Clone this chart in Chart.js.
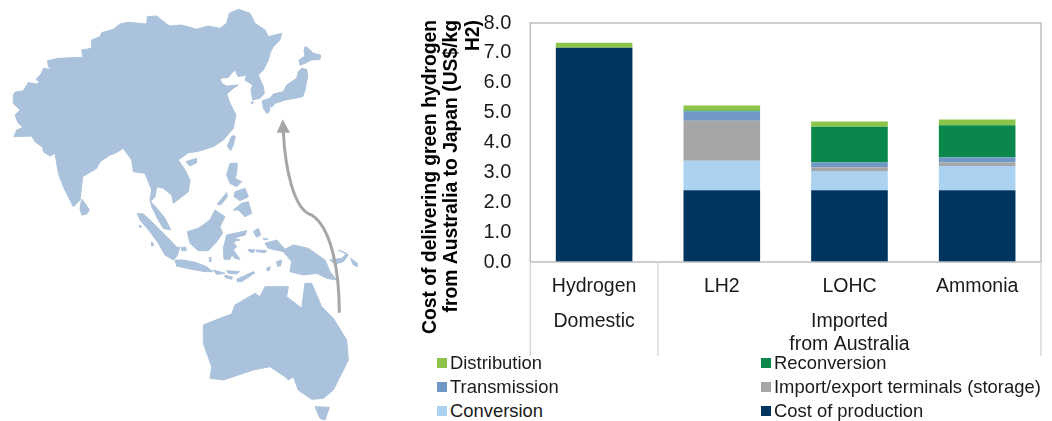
<!DOCTYPE html>
<html>
<head>
<meta charset="utf-8">
<script src="https://cdn.jsdelivr.net/npm/chart.js@4"></script>
<style>
  html, body { margin: 0; padding: 0; background: #fff; }
  #page { position: relative; width: 1052px; height: 421px; overflow: hidden; font-family: "Liberation Sans", Arial, sans-serif; }
  #map { position: absolute; left: 0; top: 0; }
  #wrap { position: absolute; left: 410px; top: 0; width: 642px; height: 356px; }
  #legend div { position: absolute; font-size: 18.4px; line-height: 20px; color: #1a1a1a; white-space: nowrap; }
  #legend i { position: absolute; left: -13px; top: 5px; width: 10px; height: 10px; }
</style>
</head>
<body>
<div id="page">
  <svg id="map" width="400" height="421" viewBox="0 0 1200 1263">
    <g fill="#abc2dc" stroke="#abc2dc" stroke-width="3" stroke-linejoin="round">
      <!-- Asia -->
      <path d="M40,285 45,277 70,272 85,248 110,252 118,245 108,238 125,220 130,205 145,207 160,210 145,200 143,182 175,175 245,172 250,178 245,150 275,145 275,120 300,110 305,98 340,88 360,72 385,67 440,72 442,50 470,48 500,72 510,78 545,75 590,88 625,78 660,85 680,70 688,40 715,28 750,40 765,70 795,90 805,110 845,100 840,120 820,140 810,160 805,180 790,210 775,225 790,260 793,280 780,295 758,300 753,270 758,255 735,240 740,225 715,230 705,210 695,220 685,232 660,235 665,250 680,258 715,255 700,265 680,282 690,310 708,345 700,385 670,420 640,440 590,455 565,458 535,480 555,510 570,540 565,575 520,610 515,585 490,565 470,560 465,590 452,605 475,630 495,655 512,690 490,685 475,660 455,620 450,600 455,570 445,545 435,520 400,515 395,480 370,445 345,460 330,465 300,485 290,505 248,530 240,600 220,620 205,590 190,560 175,520 165,460 150,468 130,455 128,442 105,425 95,408 42,410 50,390 70,382 55,370 45,345 60,330 40,310Z"/>
      <!-- Sri Lanka, Hainan, Taiwan, Japan -->
      <path d="M245,598 255,610 268,630 260,642 245,645 240,625Z"/>
      <path d="M558,485 590,475 590,488 570,498Z"/>
      <path d="M695,408 706,408 700,435 692,452 682,438Z"/>
      <path d="M915,140 925,145 940,160 962,165 960,178 935,180 915,190 900,195 897,180 915,168 912,152Z"/>
      <path d="M905,205 920,208 923,230 915,270 908,290 885,295 855,300 840,305 825,310 815,322 810,315 808,335 800,340 790,325 787,302 810,295 820,282 850,275 860,255 890,235 895,215Z"/>
      <path d="M752,308 760,305 757,312Z"/>
      <!-- Sumatra, Java, Borneo, Sulawesi, Philippines -->
      <path d="M412,640 430,642 450,660 475,685 495,705 510,720 530,742 540,742 530,770 520,780 495,765 475,730 450,695 420,660Z"/>
      <path d="M525,780 550,780 590,788 620,800 638,815 615,815 560,805 530,798Z"/>
      <path d="M562,695 595,685 630,660 645,630 675,650 660,680 668,700 650,725 625,752 595,752 570,730Z"/>
      <path d="M680,705 740,692 735,705 700,715 720,720 700,725 710,740 700,750 720,778 705,775 695,765 690,778 672,778 670,745Z"/>
      <path d="M690,490 712,490 710,520 705,535 725,545 710,560 690,550 680,525Z"/>
      <path d="M705,575 735,565 745,590 720,602 702,590Z"/>
      <path d="M700,630 725,610 745,605 755,640 735,650 715,630Z"/>
      <path d="M652,612 680,578 682,590 662,615Z"/>
      <path d="M545,742 558,742 558,752 545,752Z"/>
      <path d="M628,772 633,772 633,785 628,785Z"/>
      <path d="M455,725 462,735 455,738Z"/>
      <path d="M418,675 425,680 420,683Z"/>
      <g transform="translate(360,480)">
        <!-- smaller islands of the Banda Sea, New Guinea and its neighbours -->
        <path d="M280,330 315,340 290,343Z"/>
        <path d="M320,332 358,335 350,342 325,340Z"/>
        <path d="M315,345 338,352 335,358 315,352Z"/>
        <path d="M350,358 400,335 405,338 365,365 352,365Z"/>
        <path d="M400,215 415,205 422,225 410,232Z"/>
        <path d="M435,250 470,240 495,268 520,255 565,265 615,300 630,335 650,360 620,355 590,340 550,345 510,335 515,305 490,275 445,265Z"/>
        <path d="M385,268 405,270 400,278 388,275Z"/>
        <path d="M408,270 440,272 435,278 410,275Z"/>
        <path d="M470,305 485,300 482,318 472,318Z"/>
        <path d="M440,325 450,320 448,332 442,332Z"/>
        <path d="M630,300 665,295 680,280 655,270 685,285 670,305 645,312Z"/>
        <path d="M692,295 712,310 712,320 700,315Z"/>
        <path d="M430,235 445,238 430,238Z"/>
        <!-- Australia, Tasmania -->
        <path d="M250,495 300,475 335,462 345,435 405,400 420,410 435,380 505,380 500,410 545,445 555,370 575,370 590,405 605,440 640,475 680,540 685,600 660,650 640,690 610,715 575,718 535,690 520,650 505,660 495,650 450,620 400,630 310,660 270,655 275,620 250,550Z"/>
        <path d="M585,740 628,742 615,780 600,775Z"/>
      </g>
    </g>
    <path d="M1018,938 C1018,800 990,680 935,645 C880,630 855,500 850,395" fill="none" stroke="#a6a6a6" stroke-width="9"/>
    <path d="M848,358 830,398 870,398Z" fill="#a6a6a6"/>
  </svg>
  <div id="wrap"><canvas id="chart"></canvas></div>
  <div id="legend"></div>
</div>
<script>
const categories = ["Hydrogen", "LH2", "LOHC", "Ammonia"];
const groupLabels = ["Domestic", "", ["Imported", "from Australia"], ""];
const groupSizes = [1, 3];
const yTicks = [0, 1, 2, 3, 4, 5, 6, 7, 8];

const production = [7.17, 2.4, 2.4, 2.4];
const conversion = [0, 0.99, 0.65, 0.81];
const terminals = [0, 1.34, 0.12, 0.12];
const transmission = [0, 0.31, 0.16, 0.18];
const reconversion = [0, 0.03, 1.2, 1.07];
const distribution = [0.17, 0.17, 0.17, 0.19];

const seriesNames = ["Cost of production", "Conversion", "Import/export terminals (storage)", "Transmission", "Reconversion", "Distribution"];
const seriesValues = [production, conversion, terminals, transmission, reconversion, distribution];
const seriesColors = ["#003560", "#abd2f0", "#a6a6a6", "#7098c6", "#0a874b", "#8cc44a"];

const FONT = '"Liberation Sans", Arial, sans-serif';

// frame round the plot, and the separators running down through the two label rows
const framePlugin = {
  id: 'frame',
  afterDraw(chart) {
    const { ctx, chartArea: a, scales } = chart;
    ctx.save();
    ctx.strokeStyle = '#bfbfbf';
    ctx.lineWidth = 1.5;
    ctx.strokeRect(a.left, a.top, a.right - a.left, a.bottom - a.top);
    ctx.strokeStyle = '#d9d9d9';
    let idx = 0;
    [0].concat(groupSizes).forEach(n => {
      idx += n;
      const x = scales.x.getPixelForValue(idx - 0.5);
      ctx.beginPath();
      ctx.moveTo(x, a.bottom);
      ctx.lineTo(x, chart.height);
      ctx.stroke();
    });
    ctx.restore();
  }
};

new Chart(document.getElementById("chart"), {
  type: 'bar',
  data: {
    labels: categories,
    datasets: seriesNames.map((name, i) => ({
      label: name,
      data: seriesValues[i],
      backgroundColor: seriesColors[i],
      xAxisID: 'x',
      yAxisID: 'y',
      categoryPercentage: 0.6,
      barPercentage: 1
    }))
  },
  plugins: [framePlugin],
  options: {
    responsive: true,
    maintainAspectRatio: false,
    animation: false,
    layout: { autoPadding: false, padding: { top: 20, right: 11, left: 0, bottom: 0 } },
    plugins: {
      legend: { display: false },
      tooltip: { enabled: false },
      title: {
        display: true,
        position: 'left',
        align: 'end',
        text: ["Cost of delivering green hydrogen", "from Australia to Japan (US$/kg", "H2)"],
        color: '#000',
        font: { family: FONT, size: 19.3, weight: 'bold', lineHeight: 1.11 },
        padding: { top: 10, bottom: 0 }
      }
    },
    scales: {
      // empty axis, only holds the plot 2px below where the title starts
      xTop: {
        type: 'category',
        position: 'top',
        grid: { display: false },
        border: { display: false },
        ticks: { display: false },
        afterFit(s) { s.height = 2; }
      },
      x: {
        stacked: true,
        position: 'bottom',
        grid: { display: false },
        border: { display: false },
        ticks: { color: '#1a1a1a', font: { family: FONT, size: 19.5 }, padding: 5, maxRotation: 0, autoSkip: false },
        afterFit(s) { s.height = 40; }
      },
      x2: {
        type: 'category',
        labels: groupLabels,
        position: 'bottom',
        grid: { display: false },
        border: { display: false },
        ticks: { color: '#1a1a1a', font: { family: FONT, size: 19.5 }, padding: 0, maxRotation: 0, autoSkip: false },
        afterFit(s) { s.height = 54; }
      },
      y: {
        stacked: true,
        min: 0,
        max: 8,
        grid: { display: false },
        border: { display: false },
        afterBuildTicks(s) { s.ticks = yTicks.map(v => ({ value: v })); },
        ticks: {
          color: '#1a1a1a',
          font: { family: FONT, size: 20 },
          padding: 11,
          callback: v => v.toFixed(1)
        },
        afterFit(s) { s.width = 46; }
      }
    }
  }
});

// legend in the reference's two-column order, read from the same series lists
const legendOrder = [5, 4, 3, 2, 1, 0];
const legendBox = document.getElementById("legend");
legendOrder.forEach((si, i) => {
  const d = document.createElement("div");
  d.style.left = (i % 2 === 0 ? 450 : 774) + "px";
  d.style.top = (353 + 24 * Math.floor(i / 2)) + "px";
  d.textContent = seriesNames[si];
  const sw = document.createElement("i");
  sw.style.background = seriesColors[si];
  d.appendChild(sw);
  legendBox.appendChild(d);
});
</script>
</body>
</html>
